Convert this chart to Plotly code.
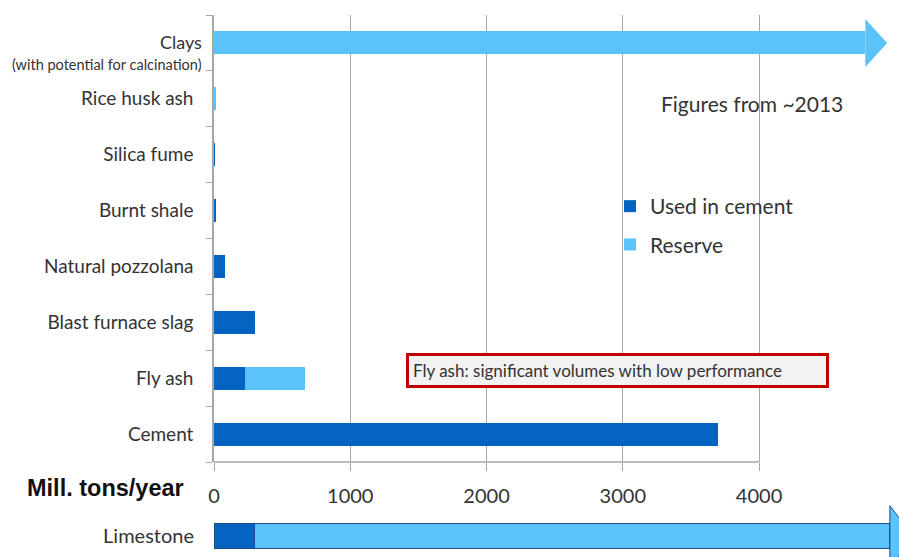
import plotly.graph_objects as go

categories = ["Cement", "Fly ash", "Blast furnace slag", "Natural pozzolana",
              "Burnt shale", "Silica fume", "Rice husk ash", "Clays"]
category_labels = ["Cement", "Fly ash", "Blast furnace slag", "Natural pozzolana",
                   "Burnt shale", "Silica fume", "Rice husk ash", ""]
used_in_cement = [3700, 230, 300, 80, 12, 1, 0, 0]
reserve = [0, 440, 0, 0, 0, 0, 14, 4780]

limestone_label = ["Limestone"]
limestone_used = [300]
limestone_reserve = [4660]

x_ticks = [0, 1000, 2000, 3000, 4000]

DARK = "#0563C1"
LIGHT = "#5BC3FA"
FONT = "Lato"
TXT = "#333333"

W, H = 899, 557
ML, MT = 214, 15
PW, PH = W - ML, H - MT


def px(x):
    return (x - ML) / PW


def py(y):
    return (H - y) / PH


fig = go.Figure()
fig.add_trace(go.Bar(y=categories, x=used_in_cement, orientation="h", name="Used in cement",
                     legendgroup="a",
                     marker=dict(color=DARK, line=dict(width=0)), width=0.41,
                     xaxis="x", yaxis="y"))
fig.add_trace(go.Bar(y=categories, x=reserve, orientation="h", name="Reserve",
                     legendgroup="b",
                     marker=dict(color=LIGHT, line=dict(width=0)), width=0.41,
                     xaxis="x", yaxis="y"))
fig.add_trace(go.Bar(y=limestone_label, x=limestone_used, orientation="h", showlegend=False,
                     marker=dict(color=DARK, line=dict(color="#1a4f8a", width=1)), width=0.47,
                     xaxis="x2", yaxis="y2"))
fig.add_trace(go.Bar(y=limestone_label, x=limestone_reserve, orientation="h", showlegend=False,
                     marker=dict(color=LIGHT, line=dict(color="#1a4f8a", width=1)), width=0.47,
                     xaxis="x2", yaxis="y2"))

XMAX = 5027

shapes = []
# Clays arrowhead (from clays reserve value)
cv = reserve[-1]
shapes.append(dict(type="path", xref="x", yref="y",
                   path=f"M {cv},{7-0.43} L {cv+160},{7} L {cv},{7+0.43} Z",
                   fillcolor=LIGHT, line=dict(width=0), layer="above"))
# Limestone arrowhead
lv = limestone_used[0] + limestone_reserve[0]
shapes.append(dict(type="path", xref="x2", yref="y2",
                   path=f"M {lv},-0.6 L {lv+170},0 L {lv},0.55 Z",
                   fillcolor=LIGHT, line=dict(color="#1a4f8a", width=1), layer="above"))
# x axis line only up to 4000
shapes.append(dict(type="line", xref="x", yref="paper", x0=0, x1=x_ticks[-1],
                   y0=py(462), y1=py(462), line=dict(color="#a6a6a6", width=1.5)))

fig.add_annotation(x=px(406), xanchor="left", y=py(370.5), yanchor="middle",
                   xref="paper", yref="paper",
                   text="Fly ash: significant volumes with low performance",
                   showarrow=False, font=dict(family=FONT, size=17, color=TXT),
                   bgcolor="#f2f2f2", bordercolor="#C00000", borderwidth=3,
                   borderpad=4, width=409, align="left")
fig.add_annotation(x=px(204), xanchor="right", y=py(42), yanchor="middle",
                   xref="paper", yref="paper", text="Clays",
                   showarrow=False, font=dict(family=FONT, size=18, color=TXT))
fig.add_annotation(x=px(204), xanchor="right", y=py(65), yanchor="middle",
                   xref="paper", yref="paper", text="(with potential for calcination)",
                   showarrow=False, font=dict(family=FONT, size=14.5, color=TXT))
fig.add_annotation(x=px(752), xanchor="center", y=py(103), yanchor="middle",
                   xref="paper", yref="paper", text="Figures from ~2013",
                   showarrow=False, font=dict(family=FONT, size=21, color=TXT))
fig.add_annotation(x=px(186), xanchor="right", y=py(488), yanchor="middle",
                   xref="paper", yref="paper", text="<b>Mill. tons/year</b>",
                   showarrow=False, font=dict(family="Liberation Sans", size=23.5, color="#111111"))

fig.update_layout(
    width=W, height=H,
    margin=dict(l=ML, r=0, t=MT, b=0),
    paper_bgcolor="white", plot_bgcolor="white",
    barmode="stack",
    font=dict(family=FONT, size=19, color=TXT),
    shapes=shapes,
    showlegend=True,
    legend=dict(x=px(610), y=py(186), xanchor="left", yanchor="top",
                font=dict(family=FONT, size=21, color=TXT), traceorder="grouped",
                itemwidth=30, tracegroupgap=8, bgcolor="rgba(0,0,0,0)"),
    xaxis=dict(range=[0, XMAX], tickvals=x_ticks, showgrid=True, gridcolor="#a6a6a6",
               gridwidth=1, showline=False, zeroline=False, ticks="outside", ticklen=8,
               tickcolor="#a6a6a6", tickfont=dict(family=FONT, size=20, color=TXT),
               ticklabelstandoff=8, anchor="y", domain=[0, 1]),
    yaxis=dict(domain=[py(462), 1], categoryorder="array", categoryarray=categories,
               tickmode="array", tickvals=categories, ticktext=category_labels,
               range=[-0.5, 7.5], showline=True, linecolor="#a6a6a6", linewidth=1.5,
               ticks="outside", ticklen=6, tickcolor="#a6a6a6", tickson="boundaries",
               showgrid=False, ticklabelstandoff=15,
               tickfont=dict(family=FONT, size=19, color=TXT)),
    xaxis2=dict(range=[0, XMAX], visible=False, anchor="y2", domain=[0, 1]),
    yaxis2=dict(domain=[0, 55 / PH], range=[-0.382, 0.618], showline=False, showgrid=False,
                ticks="", tickfont=dict(family=FONT, size=20, color=TXT), ticklabelstandoff=19,
                anchor="x2"),
)

fig.write_html("out.html", config={"displayModeBar": False},
               post_script="document.body.style.margin='0px';")
